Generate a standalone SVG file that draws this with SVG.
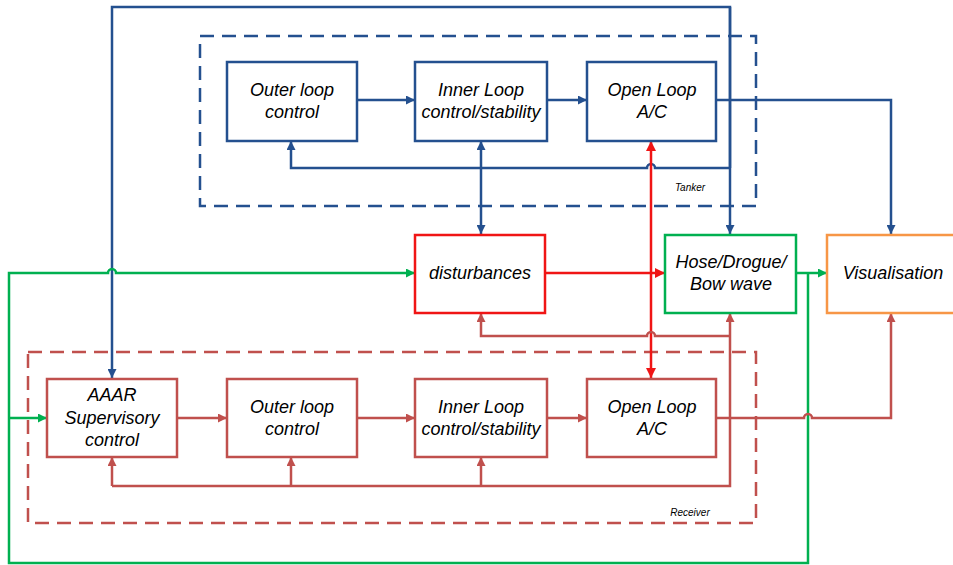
<svg xmlns="http://www.w3.org/2000/svg" width="953" height="565" viewBox="0 0 953 565">
<defs>
<style>
.box{fill:#fff;stroke-width:2.5}
.b{stroke:#24508F}
.r{stroke:#C0504D}
.red{stroke:#F01515}
.g{stroke:#00B050}
.o{stroke:#F79646}
.ln{fill:none;stroke-width:2.5}
.dash{fill:none;stroke-width:2.5;stroke-dasharray:14 8}
.t{font-family:"Liberation Sans",Arial,sans-serif;font-style:italic;font-size:18px;fill:#000;text-anchor:middle}
.s{font-family:"Liberation Sans",Arial,sans-serif;font-style:italic;font-size:10px;fill:#000;text-anchor:middle}
</style>
<marker id="ab" viewBox="0 0 10 10" refX="10" refY="5" markerWidth="9" markerHeight="9" markerUnits="userSpaceOnUse" orient="auto-start-reverse"><path d="M0,0L10,5L0,10z" fill="#24508F"/></marker>
<marker id="ar" viewBox="0 0 10 10" refX="10" refY="5" markerWidth="9" markerHeight="9" markerUnits="userSpaceOnUse" orient="auto-start-reverse"><path d="M0,0L10,5L0,10z" fill="#C0504D"/></marker>
<marker id="ared" viewBox="0 0 10 10" refX="10" refY="5" markerWidth="10" markerHeight="10" markerUnits="userSpaceOnUse" orient="auto-start-reverse"><path d="M0,0L10,5L0,10z" fill="#F01515"/></marker>
<marker id="ag" viewBox="0 0 10 10" refX="10" refY="5" markerWidth="9" markerHeight="9" markerUnits="userSpaceOnUse" orient="auto-start-reverse"><path d="M0,0L10,5L0,10z" fill="#00B050"/></marker>
</defs>
<rect width="953" height="565" fill="#fff"/>

<g id="tanker-group">
<rect class="dash b" x="200" y="36" width="556" height="170"/>
<text class="s" x="690" y="191">Tanker</text>
</g>
<g id="receiver-group">
<rect class="dash r" x="28" y="352" width="728" height="171"/>
<text class="s" x="690" y="516">Receiver</text>
</g>

<g id="connectors">
<!-- blue -->
<path class="ln b" d="M730,168V7H112V378" marker-end="url(#ab)"/>
<path class="ln b" d="M730,7V234" marker-end="url(#ab)"/>
<path class="ln b" d="M730,168H655A4,4 0 0 0 647,168H291V141" marker-end="url(#ab)"/>
<path class="ln b" d="M357,100H415" marker-end="url(#ab)"/>
<path class="ln b" d="M547,100H587" marker-end="url(#ab)"/>
<path class="ln b" d="M716,100H891V234" marker-end="url(#ab)"/>
<path class="ln b" d="M481,141V234" marker-start="url(#ab)" marker-end="url(#ab)"/>
<!-- red -->
<path class="ln red" d="M651,141V378" marker-start="url(#ared)" marker-end="url(#ared)"/>
<path class="ln red" d="M545,273H665" marker-end="url(#ared)"/>
<!-- green -->
<path class="ln g" d="M796,273H827" marker-end="url(#ag)"/>
<path class="ln g" d="M808,273V563H9V273H108A4,4 0 0 1 116,273H415" marker-end="url(#ag)"/>
<path class="ln g" d="M9,418H47" marker-end="url(#ag)"/>
<!-- brown -->
<path class="ln r" d="M177,418H227" marker-end="url(#ar)"/>
<path class="ln r" d="M357,418H415" marker-end="url(#ar)"/>
<path class="ln r" d="M547,418H587" marker-end="url(#ar)"/>
<path class="ln r" d="M716,418H804A4,4 0 0 1 812,418H891V313" marker-end="url(#ar)"/>
<path class="ln r" d="M112,486H730V313" marker-end="url(#ar)"/>
<path class="ln r" d="M112,486V457" marker-end="url(#ar)"/>
<path class="ln r" d="M291,486V457" marker-end="url(#ar)"/>
<path class="ln r" d="M481,486V457" marker-end="url(#ar)"/>
<path class="ln r" d="M730,336H655A4,4 0 0 0 647,336H481V313" marker-end="url(#ar)"/>
</g>

<g id="t-outer">
<rect class="box b" x="227" y="62" width="130" height="79"/>
<text class="t" x="292" y="96">Outer loop</text>
<text class="t" x="292" y="118">control</text>
</g>
<g id="t-inner">
<rect class="box b" x="415" y="62" width="132" height="79"/>
<text class="t" x="481" y="96">Inner Loop</text>
<text class="t" x="481" y="118">control/stability</text>
</g>
<g id="t-open">
<rect class="box b" x="587" y="62" width="129" height="79"/>
<text class="t" x="652" y="96">Open Loop</text>
<text class="t" x="652" y="118">A/C</text>
</g>

<g id="disturbances">
<rect class="box red" x="415" y="235" width="130" height="78"/>
<text class="t" x="480" y="279">disturbances</text>
</g>
<g id="hose">
<rect class="box g" x="665" y="235" width="131" height="78"/>
<text class="t" x="731" y="268">Hose/Drogue/</text>
<text class="t" x="731" y="290">Bow wave</text>
</g>
<g id="visualisation">
<rect class="box o" x="827" y="235" width="140" height="78"/>
<text class="t" x="893" y="279">Visualisation</text>
</g>

<g id="r-aaar">
<rect class="box r" x="47" y="379" width="130" height="78"/>
<text class="t" x="112" y="401">AAAR</text>
<text class="t" x="112" y="424">Supervisory</text>
<text class="t" x="112" y="446">control</text>
</g>
<g id="r-outer">
<rect class="box r" x="227" y="379" width="130" height="78"/>
<text class="t" x="292" y="413">Outer loop</text>
<text class="t" x="292" y="435">control</text>
</g>
<g id="r-inner">
<rect class="box r" x="415" y="379" width="132" height="78"/>
<text class="t" x="481" y="413">Inner Loop</text>
<text class="t" x="481" y="435">control/stability</text>
</g>
<g id="r-open">
<rect class="box r" x="587" y="379" width="129" height="78"/>
<text class="t" x="652" y="413">Open Loop</text>
<text class="t" x="652" y="435">A/C</text>
</g>
</svg>
